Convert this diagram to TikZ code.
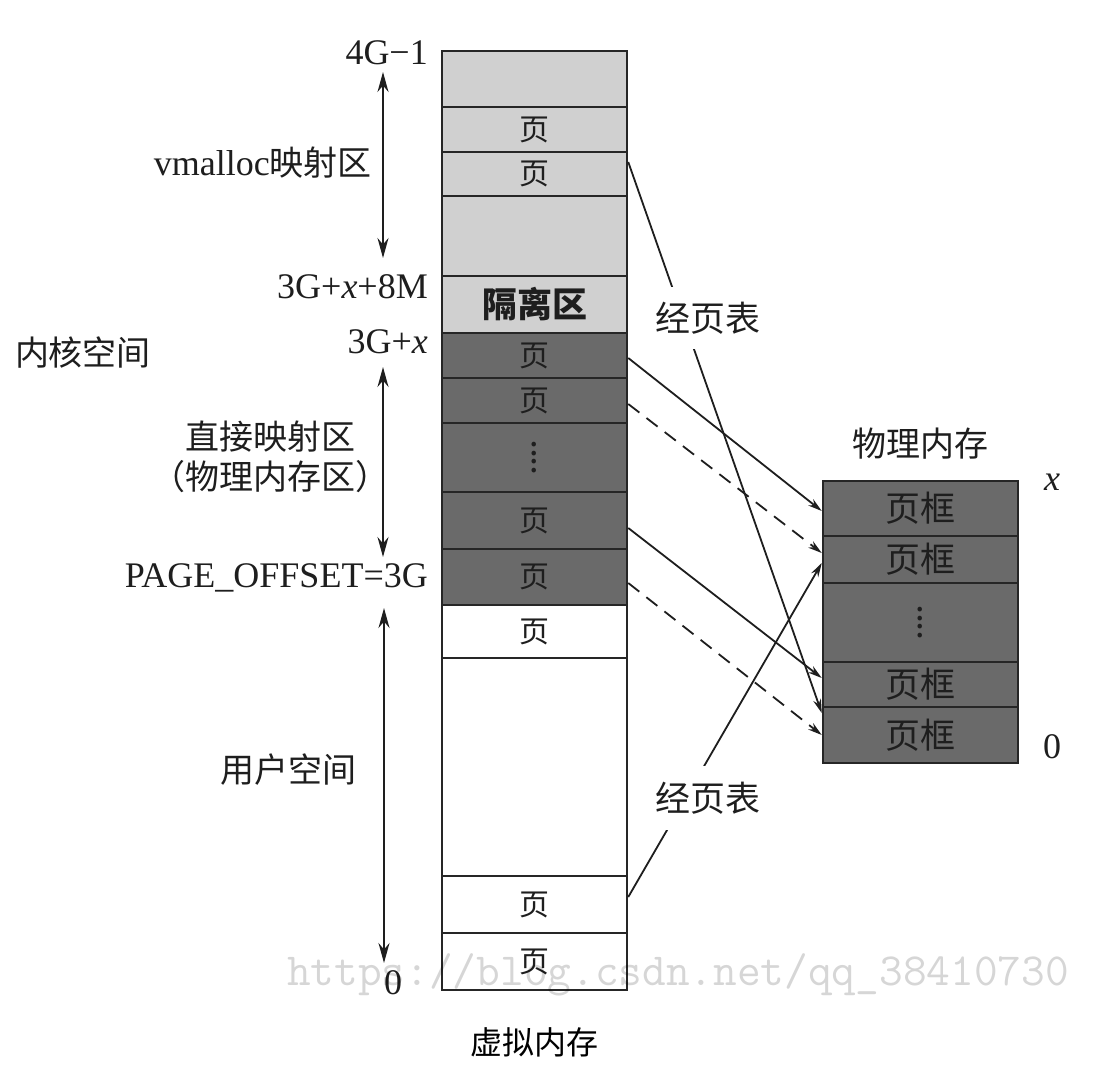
\documentclass[tikz,border=0pt]{standalone}
\usepackage{fontspec}
\setmainfont{Liberation Serif}
\newfontfamily\cjk{Noto Sans CJK SC}
\usetikzlibrary{arrows.meta,positioning}
\definecolor{Ink}{HTML}{1E1E1E}
\definecolor{Light}{HTML}{D0D0D0}
\definecolor{Dark}{HTML}{6A6A6A}
\definecolor{Rule}{HTML}{262626}
\newcommand{\vdts}{{\fontsize{34}{34}\selectfont\vbox{\baselineskip=8.5pt\lineskiplimit=-20pt\hbox{.}\hbox{.}\hbox{.}\hbox{.}}}}
\tikzset{
  cell/.style={
    draw=Rule,line width=2.5pt,minimum width=185pt,inner sep=0pt,
    font=\cjk\fontsize{30}{30}\selectfont,text=Ink
  },
  pframe/.style={cell,minimum width=195pt,fill=Dark,font=\cjk\fontsize{35}{35}\selectfont},
  lbl/.style={font=\fontsize{36}{40}\selectfont,text=Ink,inner sep=0pt},
  cjklbl/.style={font=\cjk\fontsize{34}{40}\selectfont,text=Ink,inner sep=0pt},
  arrow/.style={-{Stealth[length=14pt,width=8pt]},line width=1.8pt,draw=Ink},
  dasharrow/.style={arrow,dash pattern=on 14pt off 9pt},
  rangearrow/.style={{Stealth[length=20pt,width=11pt]}-{Stealth[length=20pt,width=11pt]},
    line width=1.8pt,draw=Ink}
}
\begin{document}
\begin{tikzpicture}[x=1pt,y=-1pt]
  \useasboundingbox[fill=white] (0,0) rectangle (1098,1090);
  % virtual memory column
  \foreach \n/\t/\b/\c/\s in {1/51/107/Light/,2/107/152/Light/页,3/152/196/Light/页,
      4/196/276/Light/,5/276/333/Light/{\fontsize{35}{35}\selectfont\bfseries 隔离区},
      6/333/378/Dark/页,7/378/423/Dark/页,8/423/492/Dark/\vdts,9/492/549/Dark/页,
      10/549/605/Dark/页,11/605/658/white/页,12/658/876/white/,13/876/933/white/页,
      14/933/990/white/页}
    \node[cell,fill=\c,minimum height={\b-\t}] (v\n) at (534.5,{(\t+\b)/2}) {\s};
  % physical memory column
  \foreach \n/\t/\b/\s in {1/481/536/页框,2/536/583/页框,3/583/662/\vdts,
      4/662/707/页框,5/707/763/页框}
    \node[pframe,minimum height={\b-\t}] (f\n) at (920.5,{(\t+\b)/2}) {\s};

  \node[lbl,anchor=east] (l4g) at (428,53) {4G−1};
  \node[lbl,anchor=east] (lvm) at (372,163) {vmalloc{\cjk\fontsize{34}{40}\selectfont 映射区}};
  \node[lbl,anchor=east] (l38) at (428,287) {3G+\textit{x}+8M};
  \node[lbl,anchor=east] (l3x) at (428,342) {3G+\textit{x}};
  \node[cjklbl] (lkern) at (83,353) {内核空间};
  \node[cjklbl,align=center] (ldir) at (270,457) {直接映射区\\（物理内存区）};
  \node[lbl,anchor=east] (lpo) at (428,578) {PAGE\_OFFSET=3G};
  \node[cjklbl] (luser) at (288,770) {用户空间};
  \node[lbl] (l0) at (393,983) {0};
  \node[cjklbl,text=black,font=\cjk\fontsize{32}{36}\selectfont,below=36pt of v14] (lvirt) {虚拟内存};
  \node[cjklbl,above=20pt of f1] (lphys) {物理内存};
  \node[lbl] (lx) at (1052,482) {\textit{x}};
  \node[lbl] (lz) at (1052,747) {0};

  \coordinate (vmtop) at (383,72);
  \coordinate (vmbot) at (383,258);
  \coordinate (dmtop) at (383,367);
  \coordinate (dmbot) at (383,557);
  \coordinate (ustop) at (384,608);
  \coordinate (usbot) at (384,963);
  \draw[rangearrow] (vmtop) -- (vmbot);
  \draw[rangearrow] (dmtop) -- (dmbot);
  \draw[rangearrow] (ustop) -- (usbot);

  % mappings
  \draw[arrow] ([yshift=12pt]v3.east) -- ([yshift=22pt]f5.west);
  \draw[arrow] ([yshift=-2.5pt]v6.east) -- ([yshift=-2.5pt]f1.west);
  \draw[dasharrow] ([yshift=-3.5pt]v7.east) -- ([yshift=6.5pt]f2.west);
  \draw[arrow] ([yshift=-7.5pt]v9.east) -- ([yshift=6.5pt]f4.west);
  \draw[dasharrow] ([yshift=-6pt]v10.east) -- (f5.west);
  \draw[arrow] ([yshift=7.5pt]v13.east) -- ([yshift=-3.5pt]f2.west);
  \node[cjklbl,font=\cjk\fontsize{35}{40}\selectfont,fill=white,inner xsep=4pt,minimum height=62pt] (pt1) at (708,318) {经页表};
  \node[cjklbl,font=\cjk\fontsize{35}{40}\selectfont,fill=white,inner xsep=4pt,minimum height=64pt] (pt2) at (708,798) {经页表};

  \node[font=\ttfamily\fontsize{46}{46}\selectfont,text=black,opacity=0.16] (wm) at (678,975) {https://blog.csdn.net/qq\_38410730};
\end{tikzpicture}
\end{document}
